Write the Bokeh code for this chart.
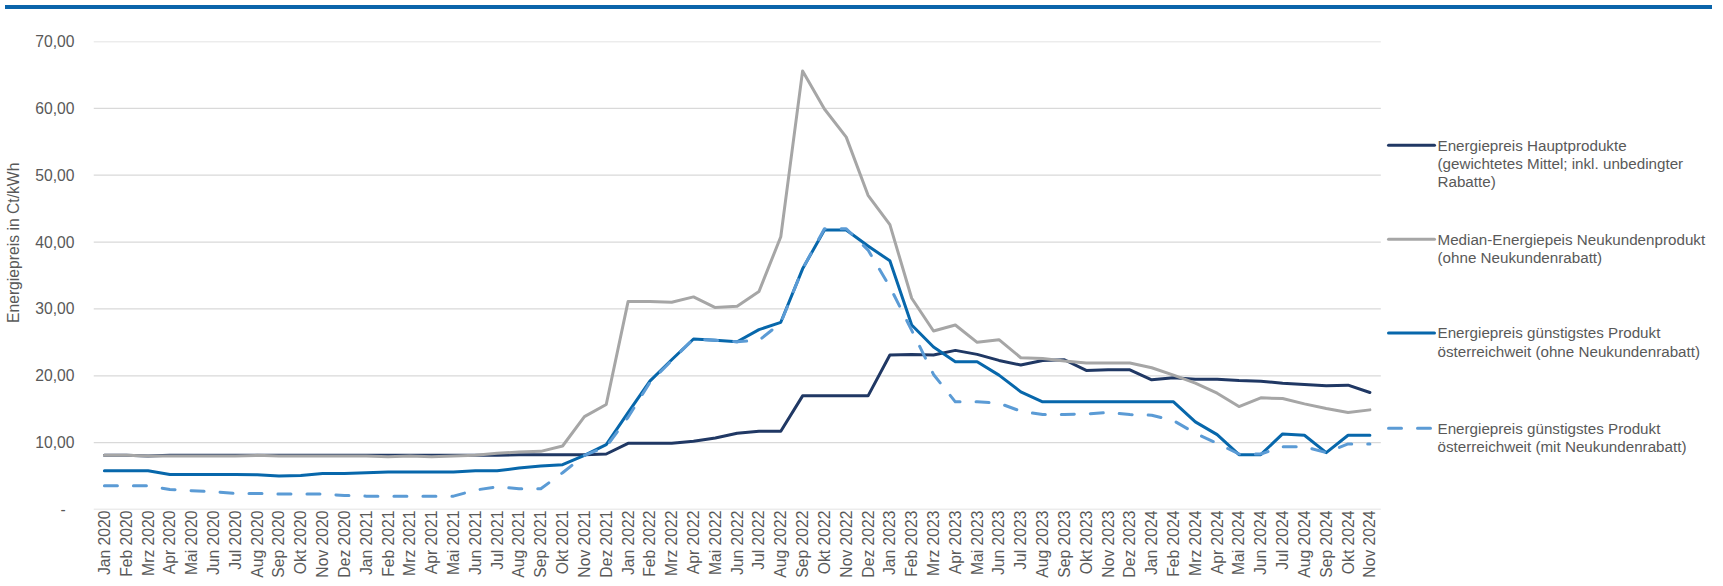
import math
from bokeh.plotting import figure
from bokeh.models import FixedTicker, Div
from bokeh.layouts import column
from bokeh.embed import file_html
from bokeh.resources import INLINE
from bokeh.core.properties import value

# ---------------- data ----------------
MONTH_ABBR = ["Jan", "Feb", "Mrz", "Apr", "Mai", "Jun", "Jul", "Aug", "Sep", "Okt", "Nov", "Dez"]
YEARS = [2020, 2021, 2022, 2023, 2024]
months = [f"{m} {y}" for y in YEARS for m in MONTH_ABBR][:59]

# Energiepreis Hauptprodukte (gewichtetes Mittel; inkl. unbedingter Rabatte)
haupt = [8.1, 8.1, 8.0, 8.1, 8.1, 8.1, 8.1, 8.1, 8.1, 8.1, 8.1, 8.1,
         8.1, 8.1, 8.1, 8.1, 8.1, 8.1, 8.1, 8.2, 8.2, 8.2, 8.2, 8.3,
         9.9, 9.9, 9.9, 10.2, 10.7, 11.4, 11.7, 11.7, 17.0, 17.0, 17.0, 17.0,
         23.1, 23.2, 23.1, 23.8, 23.2, 22.3, 21.6, 22.3, 22.4, 20.8, 20.9, 20.9,
         19.4, 19.7, 19.5, 19.5, 19.3, 19.2, 18.9, 18.7, 18.5, 18.6, 17.5]

# Median-Energiepeis Neukundenprodukt (ohne Neukundenrabatt)
median = [8.1, 8.1, 8.0, 8.0, 8.0, 8.0, 8.0, 8.1, 8.0, 8.0, 8.0, 8.0,
          8.0, 7.9, 8.0, 7.9, 8.0, 8.1, 8.4, 8.6, 8.7, 9.5, 13.9, 15.7,
          31.1, 31.1, 31.0, 31.8, 30.2, 30.4, 32.6, 40.8, 65.6, 59.9, 55.7, 47.0,
          42.6, 31.6, 26.7, 27.6, 25.0, 25.4, 22.7, 22.6, 22.2, 21.9, 21.9, 21.9,
          21.2, 20.1, 18.9, 17.4, 15.4, 16.7, 16.6, 15.8, 15.1, 14.5, 14.9]

# Energiepreis günstigstes Produkt österreichweit (ohne Neukundenrabatt)
guenstig_ohne = [5.8, 5.8, 5.8, 5.25, 5.25, 5.25, 5.25, 5.2, 5.0, 5.1, 5.4, 5.4,
                 5.5, 5.6, 5.6, 5.6, 5.6, 5.8, 5.8, 6.2, 6.5, 6.7, 8.1, 9.7,
                 14.5, 19.2, 22.4, 25.5, 25.3, 25.1, 26.9, 28.0, 36.0, 41.8, 41.8, 39.4,
                 37.2, 27.6, 24.3, 22.1, 22.1, 20.1, 17.6, 16.1, 16.1, 16.1, 16.1, 16.1,
                 16.1, 16.1, 13.1, 11.2, 8.2, 8.2, 11.3, 11.1, 8.5, 11.1, 11.1]

# Energiepreis günstigstes Produkt österreichweit (mit Neukundenrabatt)
guenstig_mit = [3.55, 3.55, 3.55, 3.0, 2.8, 2.65, 2.4, 2.4, 2.3, 2.3, 2.3, 2.1,
                2.0, 2.0, 2.0, 2.0, 2.0, 2.9, 3.4, 3.1, 3.1, 5.5, 8.1, 9.4,
                13.8, 19.0, 22.3, 25.5, 25.3, 25.1, 25.3, 27.9, 36.0, 42.0, 42.0, 38.8,
                33.3, 26.8, 20.2, 16.1, 16.1, 15.9, 14.7, 14.2, 14.2, 14.3, 14.5, 14.2,
                14.1, 13.3, 11.4, 9.9, 8.3, 8.3, 9.4, 9.4, 8.5, 9.8, 9.8]

y_ticks = [0, 10, 20, 30, 40, 50, 60, 70]
y_tick_labels = ["-\u00a0\u00a0", "10,00", "20,00", "30,00", "40,00", "50,00", "60,00", "70,00"]
y_title = "Energiepreis in Ct/kWh"

legend_texts = [
    ["Energiepreis Hauptprodukte", "(gewichtetes Mittel; inkl. unbedingter", "Rabatte)"],
    ["Median-Energiepeis Neukundenprodukt", "(ohne Neukundenrabatt)"],
    ["Energiepreis günstigstes Produkt", "österreichweit (ohne Neukundenrabatt)"],
    ["Energiepreis günstigstes Produkt", "österreichweit (mit Neukundenrabatt)"],
]

# ---------------- styles / layout ----------------
NAVY = "#203864"
GRAY = "#A6A6A6"
BLUE = "#0767AB"
LIGHT = "#5B9BD5"
TEXT = "#595959"
GRID = "#D9D9D9"
FONT = "Liberation Sans"
FS = "15.7px"

W = 1707
BAR_H = 4
H = 566
FIG_X0 = 3.0            # observed page x of the figure origin
PAGE_X0 = 96.0          # page x of frame left in the original
PAGE_Y0 = 509.0         # page y of value 0
LEFT = int(round(PAGE_X0 - FIG_X0))
TOP = 27
FRAME_H = 470
BOTTOM = H - TOP - FRAME_H
N = len(months)
CAT_W = 1287.3 / N
PX_Y = FRAME_H / 70.0

x_end = -0.5 + (W - LEFT) / CAT_W


def xd(px):
    return (px - PAGE_X0) / CAT_W - 0.5


def yd(py):
    return (PAGE_Y0 - py) / PX_Y


p = figure(width=W, height=H, x_range=(-0.5, x_end), y_range=(0, 70),
           output_backend="svg", toolbar_location=None,
           min_border_left=LEFT, min_border_right=0,
           min_border_top=TOP, min_border_bottom=BOTTOM)
p.outline_line_color = None
p.grid.visible = False
p.background_fill_color = "white"
p.border_fill_color = "white"

# gridlines limited to the data area
p.segment(x0=[-0.5] * len(y_ticks), x1=[N - 0.5] * len(y_ticks), y0=y_ticks, y1=y_ticks,
          line_color=GRID, line_width=1.3)

xs = list(range(N))
series = [
    (haupt, NAVY, "solid"),
    (median, GRAY, "solid"),
    (guenstig_ohne, BLUE, "solid"),
    (guenstig_mit, LIGHT, "13 16"),
]
for ys, col, dash in series:
    p.line(xs, ys, line_color=col, line_width=3, line_dash=dash,
           line_join="round", line_cap="round")

# axes
for ax in (p.xaxis, p.yaxis):
    ax.axis_line_color = None
    ax.major_tick_line_color = None
    ax.minor_tick_line_color = None
    ax.major_tick_out = 0
    ax.major_tick_in = 0
    ax.minor_tick_out = 0
    ax.minor_tick_in = 0
    ax.major_label_text_font = FONT
    ax.major_label_text_font_size = FS
    ax.major_label_text_color = TEXT

p.yaxis.ticker = FixedTicker(ticks=y_ticks)
p.yaxis.major_label_overrides = {t: l for t, l in zip(y_ticks, y_tick_labels)}
p.yaxis.major_label_standoff = 19
# leading no-break spaces shift the centred title upwards as in the original
p.yaxis.axis_label = "\u00a0" * 15 + y_title
p.yaxis.axis_label_standoff = 10
p.yaxis.axis_label_text_font = FONT
p.yaxis.axis_label_text_font_size = FS
p.yaxis.axis_label_text_font_style = "normal"
p.yaxis.axis_label_text_color = TEXT

p.xaxis.ticker = FixedTicker(ticks=xs)
p.xaxis.major_label_overrides = {i: m for i, m in enumerate(months)}
p.xaxis.major_label_orientation = math.pi / 2
p.xaxis.major_label_standoff = 1

# legend (drawn in the extended frame to the right of the data)
leg_first_y = [143.3, 237.7, 331.7, 427.3]
LINE_SP = 18.3
lx0, lx1, tx = xd(1391), xd(1437), xd(1440)
tx_list, ty_list, tt_list = [], [], []
for (ys, col, dash), lines, fy in zip(series, legend_texts, leg_first_y):
    p.line([lx0, lx1], [yd(fy), yd(fy)], line_color=col, line_width=3,
           line_dash=dash, line_cap="round")
    for k, t in enumerate(lines):
        tx_list.append(tx)
        ty_list.append(yd(fy + k * LINE_SP))
        tt_list.append(t)
p.text(x=tx_list, y=ty_list, text=tt_list, text_font=value(FONT),
       text_font_size=value("15.2px"), text_color=TEXT,
       text_baseline="middle", text_align="left")

bar = Div(text="", width=W, height=BAR_H,
          styles={"background-color": "#0A64AA"})
layout = column(bar, p, spacing=0)

open("out.html", "w").write(file_html(layout, INLINE))
